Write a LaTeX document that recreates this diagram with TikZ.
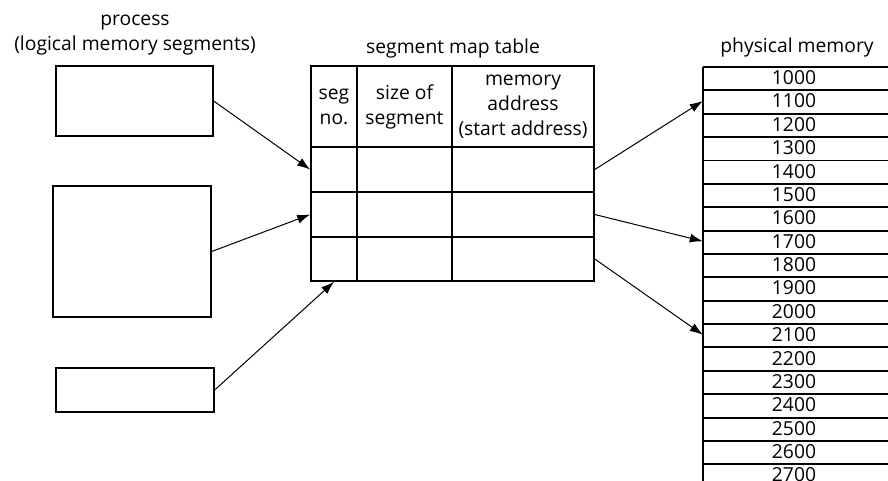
\documentclass[tikz,border=0pt]{standalone}
\usepackage{fontspec}
\setmainfont{Open Sans}
\usetikzlibrary{arrows.meta}
\begin{document}
\begin{tikzpicture}[x=1pt,y=-1pt,
  txt/.style={inner sep=0pt, font=\fontsize{19.3}{25}\selectfont},
  box/.style={draw, line width=1.3pt, inner sep=0pt},
  cell/.style={draw, line width=1.6pt, inner sep=0pt, align=center, font=\fontsize{19.3}{25}\selectfont},
  mem/.style={inner sep=0pt, minimum width=182pt, minimum height=23.37pt, font=\fontsize{19.3}{25}\selectfont},
  memline/.style={line width=1.5pt},
  conn/.style={line width=1pt, -{Latex[length=13pt,width=9pt]}}]
\useasboundingbox (0,0) rectangle (888,480);
\clip (0,0) rectangle (888,480);

% titles
\node[txt, anchor=base] (pt1) at (135,25) {process};
\node[txt, anchor=base] (pt2) at (135,50) {(logical memory segments)};
\node[txt, anchor=base] (tt) at (453,53) {segment map table};
\node[txt, anchor=base] (mt) at (797,52) {physical memory};

% process segments
\node[box, minimum width=157pt, minimum height=70pt] (seg1) at (134.5,101) {};
\node[box, minimum width=158pt, minimum height=131pt] (seg2) at (132,251.5) {};
\node[box, minimum width=158pt, minimum height=44pt] (seg3) at (135,390) {};

% segment map table
\node[cell, minimum width=46pt, minimum height=81pt] (h1) at (334,106.5) {seg\\no.};
\node[cell, minimum width=95pt, minimum height=81pt] (h2) at (404.5,106.5) {size of\\segment};
\node[cell, minimum width=142pt, minimum height=81pt] (h3) at (523,106.5) {memory\\address\\(start address)};
\foreach \r/\y/\h in {1/169.5/45, 2/214.5/45, 3/259/44} {
  \node[cell, minimum width=46pt, minimum height=\h pt] (r\r c1) at (334,\y) {};
  \node[cell, minimum width=95pt, minimum height=\h pt] (r\r c2) at (404.5,\y) {};
  \node[cell, minimum width=142pt, minimum height=\h pt] (r\r c3) at (523,\y) {};
}

% physical memory
\foreach \i in {0,...,17} {
  \pgfmathtruncatemacro{\lab}{1000+100*\i}
  \node[mem] (m\lab) at (794, 65+23.37*\i+11.685+1) {\lab};
  \draw[memline] ([yshift=-1pt]m\lab.north west) -- ++(200,0);
  \draw[memline] ([yshift=-1pt]m\lab.south west) -- ++(200,0);
  \draw[memline] ([yshift=-1pt]m\lab.north west) -- ([yshift=-1pt]m\lab.south west);
}

% connectors
\draw[conn] (seg1.east) -- (r1c1.west);
\draw[conn] (seg2.east) -- (r2c1.west);
\draw[conn] (seg3.east) -- (r3c1.south);
\draw[conn] (r1c3.east) -- (m1100.west);
\draw[conn] (r2c3.east) -- (m1700.west);
\draw[conn] (r3c3.east) -- (m2100.west);
\end{tikzpicture}
\end{document}
